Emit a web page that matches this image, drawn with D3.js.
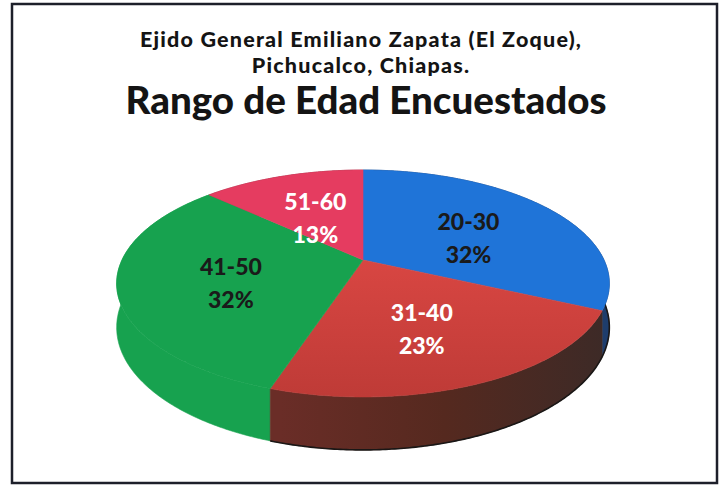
<!DOCTYPE html>
<html>
<head>
<meta charset="utf-8">
<style>
  body { margin: 0; background: #ffffff; }
  text { font-family: Lato, "Open Sans", sans-serif; font-weight: 900; }
</style>
</head>
<body>
<div id="chart"></div>
<script src="https://d3js.org/d3.v7.min.js"></script>
<script>
// data
var categories = ["20-30", "31-40", "41-50", "51-60"];
var percents = [32, 23, 32, 13];
var titleLines = ["Ejido General Emiliano Zapata (El Zoque),", "Pichucalco, Chiapas."];
var mainTitle = "Rango de Edad Encuestados";

var topColors = ["#1f74d8", "#d4443f", "#17a24f", "#e53c60"];
var sideColors = ["#1e3d6c", "url(#brownWall)", "#17a24f", "#8a2038"];
var labelColors = ["#1a1a1a", "#ffffff", "#1a1a1a", "#ffffff"];

var width = 721, height = 486;

var svg = d3.select("#chart").append("svg")
    .attr("width", width)
    .attr("height", height);

var defs = svg.append("defs");
var bw = defs.append("linearGradient").attr("id", "brownWall")
    .attr("gradientUnits", "userSpaceOnUse")
    .attr("x1", 280).attr("y1", 0).attr("x2", 610).attr("y2", 0);
bw.append("stop").attr("offset", "0").attr("stop-color", "#6a2d27");
bw.append("stop").attr("offset", "0.5").attr("stop-color", "#55291f");
bw.append("stop").attr("offset", "1").attr("stop-color", "#3c2a27");

var rg = defs.append("linearGradient").attr("id", "redTop")
    .attr("gradientUnits", "userSpaceOnUse")
    .attr("x1", 0).attr("y1", 260).attr("x2", 0).attr("y2", 395);
rg.append("stop").attr("offset", "0").attr("stop-color", "#d84642");
rg.append("stop").attr("offset", "1").attr("stop-color", "#bf3b37");
topColors[1] = "url(#redTop)";

// frame
svg.append("rect")
    .attr("x", 12).attr("y", 4)
    .attr("width", 705).attr("height", 479)
    .attr("fill", "none")
    .attr("stroke", "#1d1f2a")
    .attr("stroke-width", 2.5);

// titles
svg.selectAll(".sub").data(titleLines).enter().append("text")
    .attr("class", "sub")
    .attr("x", 361)
    .attr("y", function(d, i) { return 47 + i * 25.5; })
    .attr("text-anchor", "middle")
    .attr("fill", "#141414")
    .style("font-size", "21.5px")
    .style("letter-spacing", "1.2px")
    .text(function(d) { return d; });

svg.append("text")
    .attr("x", 366).attr("y", 114)
    .attr("text-anchor", "middle")
    .attr("fill", "#141414")
    .style("font-size", "38.5px")
    .text(mainTitle);

// 3d pie projection
var cx = 363, cy = 260, rx = 241, ry = 108.6, persp = 0.207, thick = 42;
var radius = d3.scaleLinear().domain([0, 1]).range([0, 1]);

function proj(a, r, down) {
  var x = radius(r) * Math.sin(a), z = -radius(r) * Math.cos(a);
  var w = 1 - persp * z;
  return [cx + rx * x / w, cy + (ry * z + (down || 0)) / w];
}

function rimPoints(a0, a1, down) {
  var n = Math.max(2, Math.ceil((a1 - a0) / 0.01));
  return d3.range(n + 1).map(function(i) { return proj(a0 + (a1 - a0) * i / n, 1, down); });
}

var pie = d3.pie().sort(null).value(function(d) { return d; });
var arcs = pie(percents);
var line = d3.line();

// walls, far ones first
var walls = arcs.map(function(d, i) { return { d: d, i: i }; })
  .sort(function(a, b) {
    var za = -Math.cos((a.d.startAngle + a.d.endAngle) / 2);
    var zb = -Math.cos((b.d.startAngle + b.d.endAngle) / 2);
    return za - zb;
  });

svg.append("g").selectAll("path").data(walls).enter().append("path")
    .attr("d", function(w) {
      var top = rimPoints(w.d.startAngle, w.d.endAngle, 0);
      var bot = rimPoints(w.d.startAngle, w.d.endAngle, thick).reverse();
      return line(top.concat(bot)) + "Z";
    })
    .attr("fill", function(w) { return sideColors[w.i]; })
    .attr("stroke", function(w) { return sideColors[w.i]; })
    .attr("stroke-width", 0.6);

// dark bottom edge under the brown and blue walls
svg.append("path")
    .attr("d", line(rimPoints(arcs[0].startAngle + 1.4, arcs[1].endAngle, thick)))
    .attr("fill", "none")
    .attr("stroke", "#1a1716")
    .attr("stroke-width", 1.6);

// tops
svg.append("g").selectAll("path").data(arcs).enter().append("path")
    .attr("d", function(d) {
      return line([proj(0, 0)].concat(rimPoints(d.startAngle, d.endAngle, 0))) + "Z";
    })
    .attr("fill", function(d, i) { return topColors[i]; })
    .attr("stroke", function(d, i) { return topColors[i]; })
    .attr("stroke-width", 0.6);

// labels
var lab = svg.append("g").selectAll("g").data(arcs).enter().append("g")
    .attr("transform", function(d) {
      var p = proj((d.startAngle + d.endAngle) / 2, 0.55);
      return "translate(" + p[0] + "," + p[1] + ")";
    });

lab.append("text")
    .attr("y", 0)
    .attr("text-anchor", "middle")
    .attr("fill", function(d, i) { return labelColors[i]; })
    .style("font-size", "23px")
    .text(function(d, i) { return categories[i]; });

lab.append("text")
    .attr("y", 33)
    .attr("text-anchor", "middle")
    .attr("fill", function(d, i) { return labelColors[i]; })
    .style("font-size", "23px")
    .text(function(d) { return d.data + "%"; });
</script>
</body>
</html>
